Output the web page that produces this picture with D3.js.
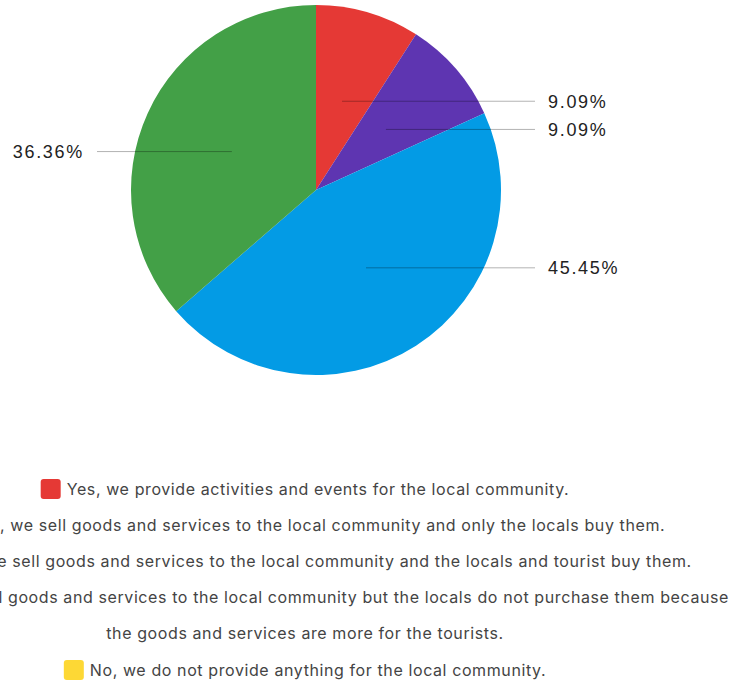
<!DOCTYPE html>
<html>
<head>
<meta charset="utf-8">
<script src="https://cdn.jsdelivr.net/npm/d3@7"></script>
<style>
  body { margin: 0; background: #fff; }
</style>
</head>
<body>
<div id="chart"></div>
<script>
const categories = [
  "Yes, we provide activities and events for the local community.",
  "Yes, we sell goods and services to the local community and only the locals buy them.",
  "Yes, we sell goods and services to the local community and the locals and tourist buy them.",
  "Yes, we sell goods and services to the local community but the locals do not purchase them because the goods and services are more for the tourists.",
  "No, we do not provide anything for the local community."
];
const counts = [1, 1, 5, 4, 0];
const colors = ["#e53935", "#5e35b1", "#039be5", "#43a047", "#fdd835"];
// legend lines: [category index or -1 for continuation, text]
const legendLines = [
  [0, categories[0]],
  [1, categories[1]],
  [2, categories[2]],
  [3, "Yes, we sell goods and services to the local community but the locals do not purchase them because"],
  [-1, "the goods and services are more for the tourists."],
  [4, categories[4]]
];

const W = 734, H = 681;
const cx = 316, cy = 190, r = 185;

const svg = d3.select("#chart").append("svg")
  .attr("width", W)
  .attr("height", H);

const total = d3.sum(counts);
const pie = d3.pie().sort(null).value(d => d)(counts);
const arc = d3.arc().innerRadius(0).outerRadius(r);

const g = svg.append("g").attr("transform", `translate(${cx}, ${cy})`);

g.selectAll("path")
  .data(pie)
  .join("path")
  .attr("d", arc)
  .attr("fill", (d, i) => colors[i]);

const fmt = d3.format(".2%");
const labelData = pie.filter(d => d.value > 0);

labelData.forEach(function (d) {
  const mid = (d.startAngle + d.endAngle) / 2;
  const px = Math.sin(mid) * r * 0.5;
  const py = -Math.cos(mid) * r * 0.5;
  const right = px >= 0;
  const ex = right ? 219 : -219;
  g.append("line")
    .attr("x1", px).attr("y1", py)
    .attr("x2", ex).attr("y2", py)
    .attr("stroke", "#000")
    .attr("stroke-opacity", 0.3)
    .attr("stroke-width", 1);
  g.append("text")
    .attr("x", right ? ex + 13 : ex - 13)
    .attr("y", py)
    .attr("dy", "0.35em")
    .attr("text-anchor", right ? "start" : "end")
    .attr("font-family", "'Liberation Sans', Arial, sans-serif")
    .attr("font-size", 18)
    .attr("letter-spacing", 1.7)
    .attr("fill", "#222")
    .text(fmt(d.value / total));
});

// legend
const legendCx = 305;
const lineY0 = 489, lineStep = 36.2;
const legend = svg.append("g");

legendLines.forEach(function (ln, k) {
  const y = lineY0 + k * lineStep;
  const t = legend.append("text")
    .attr("y", y)
    .attr("dy", "0.35em")
    .attr("font-family", "Inter, 'Noto Sans', sans-serif")
    .attr("font-size", 16)
    .attr("letter-spacing", 0.6)
    .attr("fill", "#444")
    .text(ln[1]);
  const tw = t.node().getComputedTextLength();
  const sw = ln[0] >= 0 ? 26 : 0;
  const left = legendCx - (tw + sw) / 2;
  t.attr("x", left + sw);
  if (ln[0] >= 0) {
    legend.append("rect")
      .attr("x", left)
      .attr("y", y - 10)
      .attr("width", 20)
      .attr("height", 20)
      .attr("rx", 3)
      .attr("fill", colors[ln[0]]);
  }
});
</script>
</body>
</html>
